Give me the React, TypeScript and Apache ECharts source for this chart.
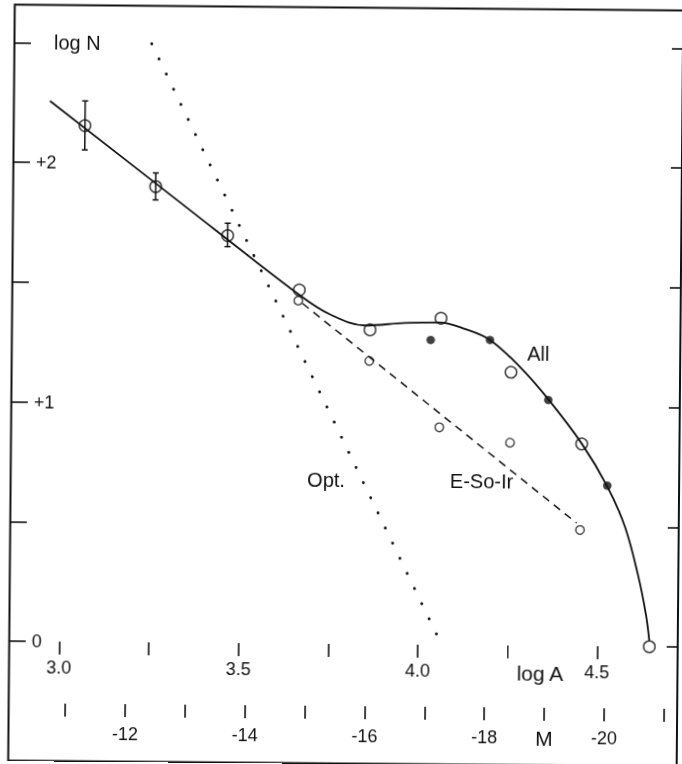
import React, { useEffect, useRef } from "react";
import * as echarts from "echarts";

// ---- tick values / labels ----
const logATicks = [3.0, 3.25, 3.5, 3.75, 4.0, 4.25, 4.5];
const logALabels = [3.0, 3.5, 4.0, 4.5];
const mTicks = [-11, -12, -13, -14, -15, -16, -17, -18, -19, -20, -21];
const mLabels = [-12, -14, -16, -18, -20];
const logNLabelText: Record<string, string> = { "0": "0", "1": "+1", "2": "+2", "2.5": "{n|log N}" };

// ---- "All" smooth curve (log A, log N) ----
const allCurveLogA = [2.9617, 3.3125, 3.6634, 3.7475, 3.8453, 3.9568, 4.0543, 4.1242, 4.1941, 4.2784, 4.3573, 4.4531, 4.5239, 4.5751, 4.6124, 4.6357, 4.6456];
const allCurveLogN = [2.2576, 1.8549, 1.4542, 1.3759, 1.3313, 1.3432, 1.3465, 1.3203, 1.2753, 1.1636, 1.031, 0.8442, 0.6697, 0.4991, 0.299, 0.1322, 0.0238];

// ---- "All" open circles ----
const allOpenLogA = [3.0598, 3.2584, 3.4603, 3.6613, 3.8594, 4.057, 4.2535, 4.4523, 4.6457];
const allOpenLogN = [2.1557, 1.9034, 1.7014, 1.4772, 1.3127, 1.3641, 1.1411, 0.8442, 0.0];

// ---- error bars ----
const errLogA = [3.0598, 3.2584, 3.4603];
const errLow = [2.0542, 1.8479, 1.6554];
const errHigh = [2.2588, 1.9606, 1.7532];

// ---- filled dots ----
const filledLogA = [4.0288, 4.1941, 4.3581, 4.5247];
const filledLogN = [1.2731, 1.2753, 1.0268, 0.6709];

// ---- E-So-Ir small circles and dashed line ----
const esoLogA = [3.6587, 3.8582, 4.0549, 4.2524, 4.4496];
const esoLogN = [1.4325, 1.1832, 0.9088, 0.847, 0.4849];
const esoLineLogA = [3.6705, 4.4397];
const esoLineLogN = [1.4209, 0.514];

// ---- Opt. dotted line ----
const optLineLogA = [3.2438, 4.0669];
const optLineLogN = [2.5, 0.0];

const zip = (a: number[], b: number[]) => a.map((v, i) => [v, b[i]]);

const FONT = "Liberation Sans";
const INK = "#111";

export default function App() {
  const ref = useRef<HTMLDivElement>(null);
  useEffect(() => {
    if (!ref.current) return;
    const chart = echarts.init(ref.current, null, { renderer: "svg" });
    const option: any = {
      animation: false,
      backgroundColor: "#fff",
      textStyle: { fontFamily: FONT, color: INK },
      grid: [
        { left: 12, right: 2, top: 45.4, bottom: 120, containLabel: false },
        { left: 12, right: 2, top: 690, bottom: 58, containLabel: false },
      ],
      xAxis: [
        {
          type: "value",
          gridIndex: 0,
          min: 2.86256,
          max: 4.72484,
          position: "bottom",
          axisLine: { show: false },
          splitLine: { show: false },
          axisTick: { show: true, customValues: logATicks, length: 13, lineStyle: { color: INK, width: 1.6 } },
          axisLabel: {
            customValues: logALabels,
            formatter: (v: number) => v.toFixed(1),
            margin: 17,
            fontSize: 18,
            fontFamily: FONT,
            color: INK,
          },
        },
        {
          type: "value",
          gridIndex: 1,
          inverse: true,
          min: -21.2209,
          max: -10.0643,
          position: "bottom",
          axisLine: { show: false },
          splitLine: { show: false },
          axisTick: { show: true, customValues: mTicks, length: 13, lineStyle: { color: INK, width: 1.6 } },
          axisLabel: {
            customValues: mLabels,
            formatter: (v: number) => String(v),
            margin: 21,
            fontSize: 18,
            fontFamily: FONT,
            color: INK,
          },
        },
      ],
      yAxis: [
        {
          type: "value",
          gridIndex: 0,
          min: 0,
          max: 2.5,
          interval: 0.5,
          position: "left",
          axisLine: { show: false },
          splitLine: { show: false },
          axisTick: { show: true, inside: true, length: 16, lineStyle: { color: INK, width: 1.6 } },
          axisLabel: {
            inside: true,
            margin: 22,
            fontSize: 18,
            fontFamily: FONT,
            color: INK,
            formatter: (v: number) => logNLabelText[String(v)] ?? "",
            rich: { n: { fontSize: 20, fontFamily: FONT, color: INK, padding: [0, 0, 0, 17] } },
          },
        },
        {
          type: "value",
          gridIndex: 0,
          min: 0,
          max: 2.5,
          interval: 0.5,
          position: "right",
          axisLine: { show: false },
          splitLine: { show: false },
          axisTick: { show: true, inside: true, length: 11, lineStyle: { color: INK, width: 1.6 } },
          axisLabel: { show: false },
        },
        {
          type: "value",
          gridIndex: 1,
          show: false,
          min: 0,
          max: 1,
        },
      ],
      graphic: [
        {
          type: "rect",
          shape: { x: 11.5, y: 7.5, width: 668.5, height: 756 },
          style: { fill: "none", stroke: INK, lineWidth: 2 },
          silent: true,
        },
        { type: "text", x: 538, y: 352, style: { text: "All", font: `20px "${FONT}"`, fill: INK, align: "center", verticalAlign: "middle" } },
        { type: "text", x: 482.5, y: 480, style: { text: "E-So-Ir", font: `20px "${FONT}"`, fill: INK, align: "center", verticalAlign: "middle" } },
        { type: "text", x: 327, y: 480, style: { text: "Opt.", font: `20px "${FONT}"`, fill: INK, align: "center", verticalAlign: "middle" } },
        { type: "text", x: 542.5, y: 671, style: { text: "log A", font: `21px "${FONT}"`, fill: INK, align: "center", verticalAlign: "middle" } },
        { type: "text", x: 547, y: 736.5, style: { text: "M", font: `21px "${FONT}"`, fill: INK, align: "center", verticalAlign: "middle" } },
      ],
      series: [
        {
          name: "All",
          type: "line",
          xAxisIndex: 0,
          yAxisIndex: 0,
          data: zip(allCurveLogA, allCurveLogN),
          smooth: 0.35,
          symbol: "none",
          lineStyle: { color: INK, width: 1.8 },
          z: 2,
        },
        {
          name: "E-So-Ir",
          type: "line",
          xAxisIndex: 0,
          yAxisIndex: 0,
          data: zip(esoLineLogA, esoLineLogN),
          symbol: "none",
          lineStyle: { color: INK, width: 1.5, type: [8, 6] },
          z: 2,
        },
        {
          name: "Opt.",
          type: "line",
          xAxisIndex: 0,
          yAxisIndex: 0,
          data: zip(optLineLogA, optLineLogN),
          symbol: "none",
          lineStyle: { color: INK, width: 2.8, type: [0.1, 16.7], cap: "round" },
          z: 2,
        },
        {
          name: "errors",
          type: "custom",
          xAxisIndex: 0,
          yAxisIndex: 0,
          data: errLogA.map((v, i) => [v, errLow[i], errHigh[i]]),
          encode: { x: 0, y: [1, 2] },
          renderItem: (params: any, api: any) => {
            const x = api.value(0);
            const lo = api.coord([x, api.value(1)]);
            const hi = api.coord([x, api.value(2)]);
            const w = 3;
            const st = { stroke: INK, lineWidth: 1.5 };
            return {
              type: "group",
              children: [
                { type: "line", shape: { x1: lo[0], y1: lo[1], x2: hi[0], y2: hi[1] }, style: st },
                { type: "line", shape: { x1: lo[0] - w, y1: lo[1], x2: lo[0] + w, y2: lo[1] }, style: st },
                { type: "line", shape: { x1: hi[0] - w, y1: hi[1], x2: hi[0] + w, y2: hi[1] }, style: st },
              ],
            };
          },
          z: 3,
        },
        {
          name: "All (open)",
          type: "scatter",
          xAxisIndex: 0,
          yAxisIndex: 0,
          data: zip(allOpenLogA, allOpenLogN),
          symbol: "circle",
          symbolSize: 11.5,
          itemStyle: { color: "rgba(255,255,255,0)", borderColor: INK, borderWidth: 1.5 },
          z: 4,
        },
        {
          name: "E-So-Ir (points)",
          type: "scatter",
          xAxisIndex: 0,
          yAxisIndex: 0,
          data: zip(esoLogA, esoLogN),
          symbol: "circle",
          symbolSize: 8.5,
          itemStyle: { color: "rgba(255,255,255,0)", borderColor: INK, borderWidth: 1.4 },
          z: 4,
        },
        {
          name: "All (filled)",
          type: "scatter",
          xAxisIndex: 0,
          yAxisIndex: 0,
          data: zip(filledLogA, filledLogN),
          symbol: "circle",
          symbolSize: 8.5,
          itemStyle: { color: INK },
          z: 4,
        },
      ],
    };
    chart.setOption(option);
    return () => chart.dispose();
  }, []);
  return (
    <div
      ref={ref}
      style={{
        position: "fixed",
        left: 0,
        top: 0,
        width: 682,
        height: 764,
        background: "#fff",
        transform: "rotate(0.5deg)",
        transformOrigin: "341px 382px",
      }}
    />
  );
}
